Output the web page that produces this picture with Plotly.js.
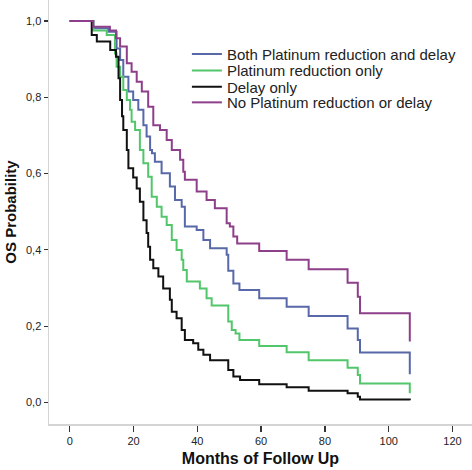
<!DOCTYPE html>
<html>
<head>
<meta charset="utf-8">
<script src="https://cdn.plot.ly/plotly-3.0.1.min.js"></script>
<style>
html,body{margin:0;padding:0;background:#fff;}
#chart{width:472px;height:470px;}
</style>
</head>
<body>
<div id="chart"></div>
<script>
// Kaplan-Meier step data (months, OS probability)
const seriesNames = [
  "Both Platinum reduction and delay",
  "Platinum reduction only",
  "Delay only",
  "No Platinum reduction or delay"
];

const bothMonths = [0, 7.4, 12.1, 14.7, 15.8, 16.8, 18.4, 19.9, 21.5, 23.1, 24.1, 25.2, 25.8, 26.7, 28.8, 31.4, 33.0, 35.1, 36.1, 39.8, 41.9, 44.0, 49.2, 49.7, 51.3, 53.2, 59.4, 68.0, 74.9, 87.1, 90.3, 91.0, 106.6, 106.6];
const bothOS     = [1.0, 0.981, 0.972, 0.928, 0.898, 0.854, 0.815, 0.793, 0.767, 0.727, 0.697, 0.662, 0.653, 0.631, 0.601, 0.566, 0.531, 0.513, 0.461, 0.452, 0.426, 0.404, 0.387, 0.345, 0.312, 0.295, 0.273, 0.251, 0.227, 0.194, 0.164, 0.131, 0.131, 0.074];

const platMonths = [0, 7.4, 11.6, 14.2, 14.7, 15.8, 16.8, 17.9, 18.9, 19.4, 20.5, 22.0, 23.1, 24.6, 25.7, 27.3, 28.8, 30.4, 32.0, 33.5, 35.1, 35.6, 36.7, 40.8, 42.9, 44.5, 49.7, 50.8, 52.0, 53.2, 59.4, 68.0, 74.9, 87.1, 90.3, 91.0, 106.6, 106.6];
const platOS     = [1.0, 0.975, 0.963, 0.915, 0.88, 0.854, 0.819, 0.793, 0.767, 0.736, 0.714, 0.662, 0.627, 0.592, 0.539, 0.513, 0.487, 0.465, 0.426, 0.4, 0.374, 0.347, 0.317, 0.299, 0.273, 0.254, 0.212, 0.19, 0.181, 0.164, 0.148, 0.132, 0.111, 0.091, 0.072, 0.05, 0.05, 0.024];

const delayMonths = [0, 6.9, 8.5, 12.7, 14.5, 15.3, 15.8, 16.4, 16.8, 17.9, 18.4, 19.9, 21.0, 22.0, 23.1, 24.1, 24.6, 25.2, 26.2, 27.8, 29.3, 31.4, 32.0, 33.5, 35.1, 36.1, 38.7, 40.3, 41.9, 44.0, 49.7, 51.3, 53.4, 59.4, 68.0, 74.9, 87.1, 90.3, 91.0, 106.6];
const delayOS     = [1.0, 0.963, 0.946, 0.924, 0.906, 0.85, 0.793, 0.75, 0.714, 0.662, 0.614, 0.59, 0.561, 0.526, 0.478, 0.444, 0.408, 0.374, 0.352, 0.33, 0.299, 0.269, 0.238, 0.221, 0.19, 0.164, 0.155, 0.138, 0.125, 0.111, 0.085, 0.068, 0.059, 0.048, 0.04, 0.031, 0.024, 0.015, 0.008, 0.006];

const noneMonths = [0, 7.4, 12.6, 14.5, 15.8, 17.9, 19.4, 21.0, 22.6, 24.6, 26.2, 28.3, 30.4, 32.0, 34.6, 35.6, 36.1, 39.8, 42.9, 45.5, 49.2, 50.2, 51.3, 52.5, 59.4, 68.0, 74.9, 87.1, 90.3, 91.0, 106.6, 106.6];
const noneOS     = [1.0, 0.985, 0.975, 0.955, 0.933, 0.889, 0.867, 0.841, 0.815, 0.775, 0.727, 0.714, 0.688, 0.662, 0.636, 0.605, 0.584, 0.553, 0.531, 0.509, 0.47, 0.461, 0.435, 0.417, 0.397, 0.374, 0.349, 0.314, 0.277, 0.234, 0.234, 0.16];

const xTicks = [0, 20, 40, 60, 80, 100, 120];
const yTicks = [0, 0.2, 0.4, 0.6, 0.8, 1.0];

const colors = ["#5868a8", "#52c66a", "#111111", "#8e3f8a"];

const seriesX = [bothMonths, platMonths, delayMonths, noneMonths];
const seriesY = [bothOS, platOS, delayOS, noneOS];

const legendIds = ["legend", "legend2", "legend3", "legend4"];
const legendY = [0.872, 0.833, 0.795, 0.758];

const traces = seriesNames.map((name, i) => ({
  type: "scatter",
  mode: "lines",
  name: name,
  legend: legendIds[i],
  x: seriesX[i],
  y: seriesY[i],
  line: {shape: "hv", color: colors[i], width: 2},
  hoverinfo: "skip"
}));

const layout = {
  width: 472,
  height: 470,
  margin: {l: 49, r: 0, t: 0, b: 46},
  paper_bgcolor: "#ffffff",
  plot_bgcolor: "#ffffff",
  separators: ",.",
  font: {family: "Liberation Sans, Arial, sans-serif", color: "#222"},
  showlegend: true,
  xaxis: {
    range: [-6.49, 126.1],
    tickvals: xTicks,
    ticktext: xTicks.map(String),
    ticks: "outside", ticklen: 6, tickwidth: 1.5, tickcolor: "#333",
    showline: true, linecolor: "#d4d4d4", linewidth: 1.5,
    showgrid: false, zeroline: false,
    tickfont: {size: 11, color: "#222"},
    title: {text: "<b>Months of Follow Up</b>", font: {size: 16, color: "#111"}, standoff: 7}
  },
  yaxis: {
    range: [-0.0564, 1.055],
    tickvals: yTicks,
    tickformat: ".1f",
    ticks: "outside", ticklen: 4, tickwidth: 1.2, tickcolor: "#333",
    showline: true, linecolor: "#d4d4d4", linewidth: 1.5,
    showgrid: false, zeroline: false,
    tickfont: {size: 11, color: "#222"},
    title: {text: "<b>OS Probability</b>", font: {size: 15, color: "#111"}, standoff: 6}
  }
};

legendIds.forEach((id, i) => {
  layout[id] = {
    x: 0.326, y: legendY[i], xanchor: "left", yanchor: "middle",
    bgcolor: "rgba(0,0,0,0)",
    font: {size: 15, color: "#222", family: "Liberation Sans, Arial, sans-serif"},
    itemwidth: 30
  };
});

Plotly.newPlot("chart", traces, layout, {staticPlot: true, displayModeBar: false});
</script>
</body>
</html>
